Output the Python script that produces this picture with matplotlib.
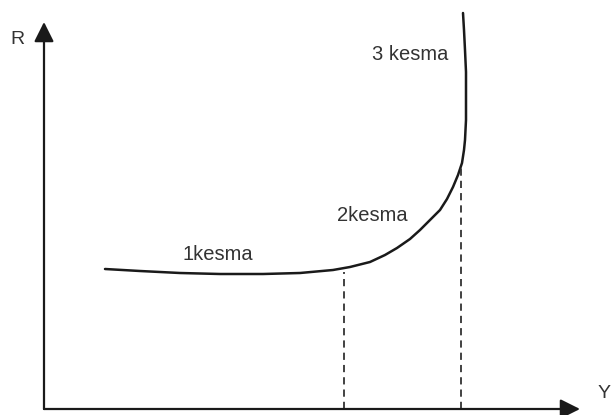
import matplotlib
matplotlib.use('Agg')
import matplotlib.pyplot as plt

# curve (Y along the horizontal axis, R up the vertical one)
curve_y = [61, 96, 136, 176, 219, 256, 289, 306, 326, 341, 353, 366, 376, 386,
           396, 403, 409, 414, 418, 420, 421, 422, 422, 422, 421, 420, 419]
curve_r = [140, 138, 136, 135, 135, 136, 139, 142, 147, 154, 161, 170, 179, 189,
           199, 210, 222, 234, 246, 259, 269, 289, 313, 337, 359, 379, 396]

# dashed guide lines: position on Y and height where they meet the curve
guide_y = [300, 417]
guide_top = [137, 244]

labels = ['1kesma', '2kesma', '3 kesma']
label_pos = [(138, 149), (293, 188), (328, 349)]

plt.rcParams['font.family'] = ['Liberation Sans', 'DejaVu Sans']

fig = plt.figure(figsize=(6.13, 4.15), dpi=100)
ax = fig.add_axes([0, 0, 1, 1])
ax.set_xlim(-44, 569)
ax.set_ylim(-6, 409)
ax.axis('off')

ink = '#1a1a1a'

# axes with arrow heads
arrow = dict(arrowstyle='-|>,head_length=0.6,head_width=0.3', color=ink,
             lw=1.6, mutation_scale=20, shrinkA=0, shrinkB=0)
ax.annotate('', xy=(0, 387), xytext=(0, 0), arrowprops=arrow)
ax.annotate('', xy=(536, 0), xytext=(0, 0), arrowprops=arrow)
ax.text(-34, 365, 'R', fontsize=14, color='#333333')
ax.text(554, 11, 'Y', fontsize=14, color='#333333')

ax.plot(curve_y, curve_r, color=ink, lw=1.8, solid_capstyle='round',
        solid_joinstyle='round')

for gx, gt in zip(guide_y, guide_top):
    ax.plot([gx, gx], [0, gt], color='#333333', lw=1.3, linestyle=(0, (4, 2.8)))

for txt, (tx, ty) in zip(labels, label_pos):
    ax.text(tx, ty, txt, fontsize=14.5, color='#333333')

fig.savefig('out.png', dpi=100, facecolor='white')
